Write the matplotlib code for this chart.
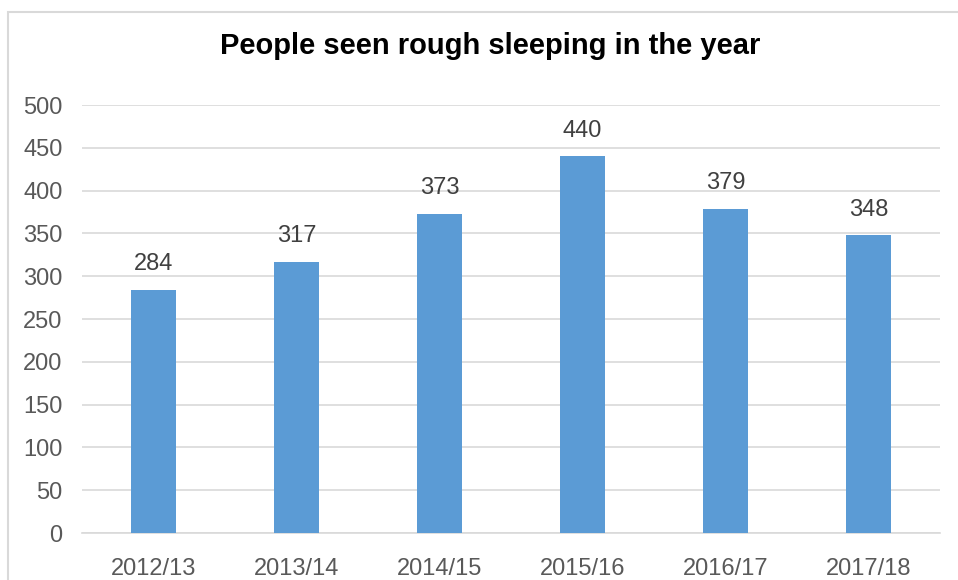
import matplotlib
matplotlib.use("Agg")
import matplotlib.pyplot as plt
from matplotlib.patches import Rectangle

# Data
years = ['2012/13', '2013/14', '2014/15', '2015/16', '2016/17', '2017/18']
people = [284, 317, 373, 440, 379, 348]
yticks = [0, 50, 100, 150, 200, 250, 300, 350, 400, 450, 500]

plt.rcParams['font.family'] = ['Liberation Sans', 'DejaVu Sans']

fig = plt.figure(figsize=(9.58, 5.8), dpi=100)
fig.patch.set_facecolor('white')

# outer chart border (cut off at right and bottom)
fig.patches.append(Rectangle((8 / 958, -0.1), 1.2, (580 - 12) / 580 + 0.1,
                             transform=fig.transFigure, fill=False,
                             edgecolor='#d9d9d9', linewidth=1.5))

ax = fig.add_axes([82 / 958, 47 / 580, 858 / 958, 428 / 580])
x = range(len(years))
ax.bar(x, people, width=0.315, color='#5b9bd5', zorder=3)

for i, v in enumerate(people):
    ax.annotate(str(v), (i, v), xytext=(0, 14), textcoords='offset points',
                ha='center', va='baseline', fontsize=17, color='#404040')

ax.set_ylim(0, 500)
ax.set_xlim(-0.5, len(years) - 0.5)
ax.set_yticks(yticks)
ax.set_xticks(list(x))
ax.set_xticklabels(years)
ax.yaxis.grid(True, color='#d9d9d9', linewidth=1.2, zorder=0)
ax.tick_params(axis='both', length=0, labelsize=17, labelcolor='#595959')
ax.tick_params(axis='y', pad=14)
ax.tick_params(axis='x', pad=18)
for s in ['top', 'right', 'left']:
    ax.spines[s].set_visible(False)
ax.spines['bottom'].set_color('#d9d9d9')
ax.spines['bottom'].set_linewidth(1.2)

fig.text(490 / 958, 1 - 46 / 580, 'People seen rough sleeping in the year',
         ha='center', va='center', fontsize=21, fontweight='bold', color='black')

fig.savefig('out.png', dpi=100)
